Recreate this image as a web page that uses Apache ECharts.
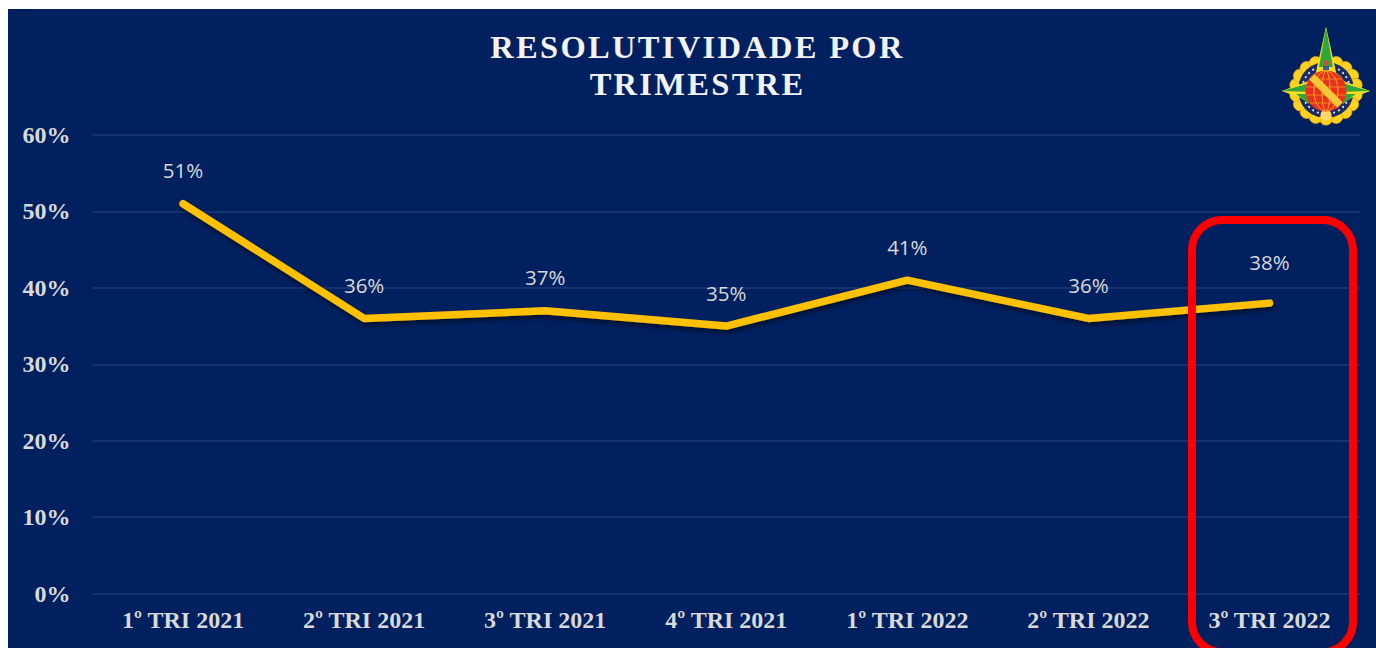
<!DOCTYPE html>
<html>
<head>
<meta charset="utf-8">
<style>html,body{margin:0;padding:0;background:#fff}#c{width:1376px;height:648px}</style>
<script src="https://cdn.jsdelivr.net/npm/echarts@6/dist/echarts.min.js"></script>
</head>
<body>
<div id="c"></div>
<script>
const titleLines = ['RESOLUTIVIDADE POR', 'TRIMESTRE'];
const categories = ['1º TRI 2021', '2º TRI 2021', '3º TRI 2021', '4º TRI 2021', '1º TRI 2022', '2º TRI 2022', '3º TRI 2022'];
const resolutividade = [51, 36, 37, 35, 41, 36, 38];
const yTicks = [0, 10, 20, 30, 40, 50, 60];

const NAVY = '#00205F';
const serif = '"Liberation Serif", serif';

// Emblem in the top-right corner: petals, navy arcs, compass star, globe.
function emblem(cx, cy) {
  const out = [];
  const ringY = cy - 1;
  const blur = { shadowBlur: 1.5, shadowColor: 'rgba(255,210,40,0.45)' };
  for (let i = 0; i < 18; i++) {
    const a = (i + 0.5) / 18 * Math.PI * 2;
    out.push({ type: 'circle', shape: { cx: cx + Math.cos(a) * 30, cy: ringY + Math.sin(a) * 28.5, r: 6.6 },
      style: { fill: '#FFD21F', stroke: '#E0A812', lineWidth: 0.8 }, z: 10 });
  }
  out.push({ type: 'circle', shape: { cx, cy: ringY, r: 28 }, style: { fill: '#FFD21F' }, z: 11 });
  // Navy arcs on the diagonals, each dotted with small white stars
  [45, 135, 225, 315].forEach(deg => {
    const mid = deg * Math.PI / 180;
    out.push({ type: 'arc', shape: { cx, cy: ringY, r: 24, startAngle: mid - 0.48, endAngle: mid + 0.48 },
      style: { fill: 'none', stroke: '#1A2B66', lineWidth: 8, lineCap: 'round' }, z: 12 });
    for (let k = -2; k <= 2; k++) {
      const a = mid + k * 0.22;
      out.push({ type: 'circle', shape: { cx: cx + Math.cos(a) * 24, cy: ringY + Math.sin(a) * 24, r: 1 },
        style: { fill: '#DDE3F0' }, z: 13 });
    }
  });
  const star = (pts, fill, z) => out.push({ type: 'polygon', shape: { points: pts }, style: { fill, ...blur }, z });
  // Yellow wedges lying under the green star arms
  star([[cx, cy - 64], [cx - 11, cy - 14], [cx, cy - 8], [cx + 11, cy - 14]], '#F4DE20', 14);
  star([[cx, cy - 64], [cx - 7, cy - 24], [cx + 7, cy - 24]], '#2FA83A', 15);
  star([[cx - 44, cy], [cx - 12, cy - 12], [cx - 6, cy], [cx - 12, cy + 12]], '#F4DE20', 14);
  star([[cx - 44, cy], [cx - 16, cy - 8], [cx - 16, cy + 1]], '#2FA83A', 15);
  star([[cx + 44, cy], [cx + 12, cy - 12], [cx + 6, cy], [cx + 12, cy + 12]], '#F4DE20', 14);
  star([[cx + 44, cy], [cx + 16, cy - 8], [cx + 16, cy + 1]], '#2FA83A', 15);
  star([[cx - 30, cy + 3], [cx - 17, cy + 3], [cx - 17, cy + 13]], '#2FA83A', 15);
  star([[cx + 30, cy + 3], [cx + 17, cy + 3], [cx + 17, cy + 13]], '#2FA83A', 15);
  out.push({ type: 'circle', shape: { cx, cy: cy + 24, r: 5.5 }, style: { fill: '#FFD66A' }, z: 16 });
  out.push({ type: 'circle', shape: { cx, cy: cy - 28, r: 3 }, style: { fill: '#C8503C' }, z: 16 });
  out.push({ type: 'rect', shape: { x: cx - 3, y: cy - 25, width: 6, height: 4 }, style: { fill: '#3C5C90' }, z: 16 });
  // Globe with meridians and parallels
  out.push({ type: 'circle', shape: { cx, cy: cy, r: 20.5 }, style: { fill: '#E9321C' }, z: 17 });
  [-12, -4, 4, 12].forEach(d => {
    const half = Math.sqrt(20 * 20 - d * d);
    out.push({ type: 'line', shape: { x1: cx - half, y1: cy + d, x2: cx + half, y2: cy + d },
      style: { stroke: '#F7A020', lineWidth: 0.7 }, z: 18 });
    out.push({ type: 'ellipse', shape: { cx, cy, rx: Math.abs(d), ry: 20 },
      style: { fill: 'none', stroke: '#F7A020', lineWidth: 0.7 }, z: 18 });
  });
  out.push({ type: 'line', shape: { x1: cx - 14, y1: cy - 14, x2: cx + 14, y2: cy + 14 },
    style: { stroke: '#F3C93A', lineWidth: 7.5 }, z: 19 });
  return out;
}

const chart = echarts.init(document.getElementById('c'), null, { renderer: 'svg', width: 1376, height: 648 });

chart.setOption({
  animation: false,
  backgroundColor: '#ffffff',
  title: {
    text: titleLines.join('\n'),
    left: 692.5,
    top: 23,
    textAlign: 'center',
    textStyle: { fontFamily: serif, fontWeight: 'bold', fontSize: 32.5, lineHeight: 37, color: '#F2F2F2' }
  },
  grid: { left: 92.5, right: 16, top: 135, bottom: 54.5, containLabel: false },
  xAxis: {
    type: 'category',
    data: categories,
    boundaryGap: true,
    axisLine: { show: false },
    axisTick: { show: false },
    axisLabel: { color: '#D9D9D9', fontFamily: serif, fontWeight: 'bold', fontSize: 24, margin: 14 }
  },
  yAxis: {
    type: 'value',
    min: yTicks[0],
    max: yTicks[yTicks.length - 1],
    interval: yTicks[1] - yTicks[0],
    axisLine: { show: false },
    axisTick: { show: false },
    axisLabel: { color: '#D9D9D9', fontFamily: serif, fontWeight: 'bold', fontSize: 24, margin: 22, verticalAlign: 'middle', lineHeight: 22, formatter: '{value}%' },
    splitLine: { lineStyle: { color: '#1C3A74', width: 1.5 } }
  },
  series: [{
    type: 'line',
    data: resolutividade.map((value, i) => i === resolutividade.length - 1
      ? { value, label: { offset: [0, -8] } }
      : value),
    symbol: 'circle',
    symbolSize: 1,
    showSymbol: true,
    lineStyle: { color: '#FFC000', width: 7.5, cap: 'round', join: 'round',
      shadowColor: 'rgba(0,0,0,0.55)', shadowBlur: 5, shadowOffsetY: 3, shadowOffsetX: 1 },
    itemStyle: { color: '#FFC000' },
    z: 3,
    label: { show: true, position: 'top', distance: 22.5, color: '#D9D9D9', fontFamily: '"Open Sans", sans-serif', fontSize: 20.5, formatter: '{c}%' }
  }],
  graphic: [
    { type: 'rect', silent: true, z: -10, shape: { x: 8, y: 9, width: 1368, height: 639 }, style: { fill: NAVY } },
    { type: 'rect', silent: true, z: 50, shape: { x: 1192, y: 220, width: 161, height: 432, r: 30 },
      style: { fill: 'none', stroke: '#FF0000', lineWidth: 8 } },
    ...emblem(1326, 91).map(e => ({ ...e, silent: true }))
  ]
});

// Wider tracking on the two title lines, applied to the drawn text nodes.
function trackTitle() {
  chart.getDom().querySelectorAll('text').forEach(t => {
    if (titleLines.includes(t.textContent)) t.style.letterSpacing = '2.3px';
  });
}
chart.on('finished', trackTitle);
trackTitle();
</script>
</body>
</html>
